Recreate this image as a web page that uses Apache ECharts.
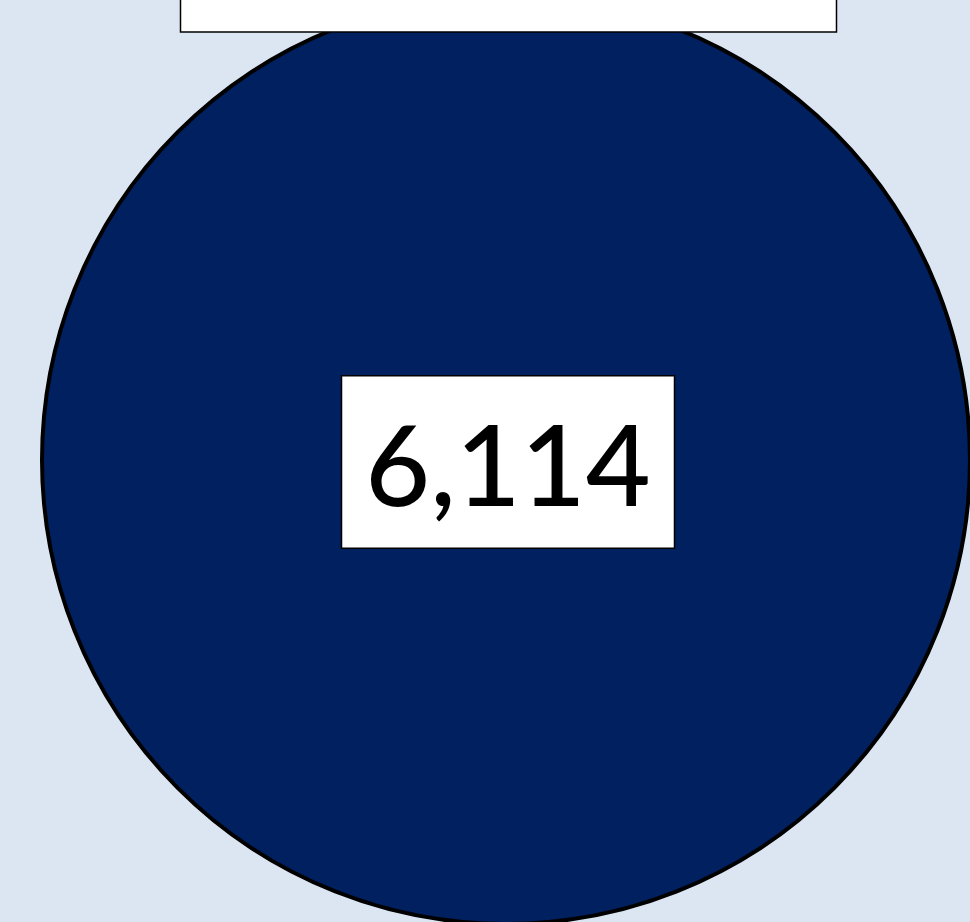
<!DOCTYPE html>
<html>
<head>
<meta charset="utf-8">
<script src="https://cdn.jsdelivr.net/npm/echarts@6/dist/echarts.min.js"></script>
<style>
  html, body { margin: 0; padding: 0; background: #dce6f2; }
  #chart { width: 970px; height: 922px; }
</style>
</head>
<body>
<div id="chart"></div>
<script>
// single-slice pie: one total, label boxed in the middle
const categories = ['Total']
const values = [6114]

const chart = echarts.init(document.getElementById('chart'))
chart.setOption({
  backgroundColor: '#dce6f2',
  animation: false,
  // title box sits mostly above the visible area, only its lower edge shows
  graphic: [{
    type: 'rect', z: 100,
    shape: { x: 180.5, y: -40, width: 656, height: 72 },
    style: { fill: '#fff', stroke: '#000', lineWidth: 1.5 },
  }],
  series: [{
    type: 'pie',
    center: [506, 460],
    radius: 464,
    startAngle: 90,
    data: categories.map((c, i) => ({ name: c, value: values[i] })),
    itemStyle: { color: '#002060', borderColor: '#000', borderWidth: 4 },
    emphasis: { disabled: true },
    labelLine: { show: false },
    label: {
      show: true,
      position: 'center',
      offset: [2, 2],
      formatter: (p) => '{v|' + echarts.format.addCommas(p.value) + '}',
      backgroundColor: '#fff',
      borderColor: '#000',
      borderWidth: 1.5,
      padding: [22, 23, 28, 23],
      rich: {
        v: {
          fontFamily: 'Lato',
          fontWeight: 500,
          fontSize: 112,
          lineHeight: 121,
          color: '#000',
          padding: [22, 0, 0, 0],
        },
      },
    },
  }],
})
</script>
</body>
</html>
